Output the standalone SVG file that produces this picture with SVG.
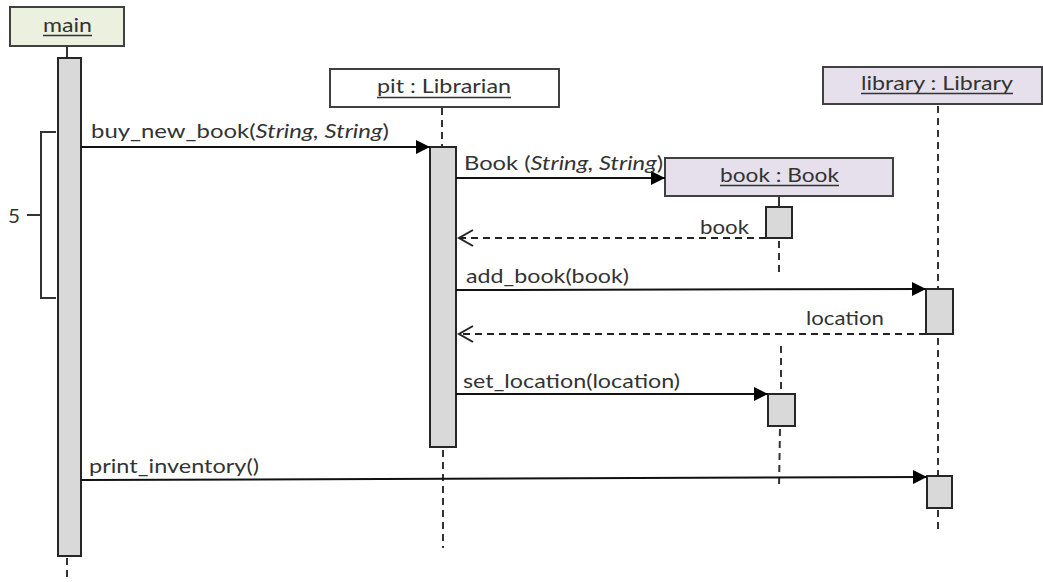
<svg xmlns="http://www.w3.org/2000/svg" width="1043" height="582" viewBox="0 0 1043 582">
<style>
  text { font-family: Lato, "Liberation Sans", sans-serif; font-size: 20px; fill: #333333; }
  .box { stroke: #404040; stroke-width: 2; }
  .ul { stroke: #333333; stroke-width: 1.3; }
  .life { stroke: #333; stroke-width: 2; stroke-dasharray: 7 5; fill: none; }
  .solid { stroke: #333; stroke-width: 2; fill: none; }
  .act { fill: #d9d9d9; stroke: #262626; stroke-width: 2; }
  .msg { stroke: #111; stroke-width: 2; fill: none; }
  .ret { stroke: #222; stroke-width: 2; stroke-dasharray: 7 5; fill: none; }
  .i { font-style: italic; }
</style>
<defs>
  <marker id="fill" markerUnits="userSpaceOnUse" markerWidth="15" markerHeight="16" refX="14" refY="8" orient="auto">
    <path d="M0,1 L14,8 L0,15 z" fill="#000" stroke="none"/>
  </marker>
  <marker id="open" markerUnits="userSpaceOnUse" markerWidth="18" markerHeight="20" refX="15" refY="10" orient="auto">
    <path d="M1,2 L15,10 L1,18" fill="none" stroke="#222" stroke-width="2" stroke-dasharray="none"/>
  </marker>
</defs>
<rect width="1043" height="582" fill="#fff"/>

<g id="lifelines">
  <line class="solid" x1="67" y1="46" x2="67" y2="58"/>
  <line class="life" x1="67" y1="558" x2="67" y2="582"/>
  <line class="life" x1="442" y1="108" x2="442" y2="147"/>
  <line class="life" x1="443" y1="450" x2="443" y2="548"/>
  <line class="solid" x1="779" y1="196" x2="779" y2="207"/>
  <line class="life" x1="779" y1="241" x2="779" y2="277"/>
  <line class="life" x1="781" y1="346" x2="781" y2="393"/>
  <line class="life" x1="780" y1="429" x2="779" y2="487"/>
  <line class="life" x1="938" y1="106" x2="938" y2="288"/>
  <line class="life" x1="938" y1="338" x2="938" y2="476"/>
  <line class="life" x1="938" y1="510" x2="938" y2="533"/>
</g>

<g id="main">
  <rect class="box" x="10" y="7" width="114" height="39" fill="#ebf1de"/>
  <text x="43" y="32" textLength="49" lengthAdjust="spacingAndGlyphs">main</text>
  <line class="ul" x1="43" y1="35.5" x2="92" y2="35.5"/>
  <rect class="act" x="58" y="58" width="23" height="498"/>
</g>

<g id="pit">
  <rect class="box" x="330" y="69" width="229" height="38" fill="#ffffff"/>
  <text x="377" y="93" textLength="134" lengthAdjust="spacingAndGlyphs">pit : Librarian</text>
  <line class="ul" x1="377" y1="97.5" x2="511" y2="97.5"/>
  <rect class="act" x="430" y="147" width="26" height="300"/>
</g>

<g id="book">
  <rect class="box" x="665" y="158" width="228" height="38" fill="#e5e0ec"/>
  <text x="720" y="182" textLength="119" lengthAdjust="spacingAndGlyphs">book : Book</text>
  <line class="ul" x1="720" y1="185.5" x2="839" y2="185.5"/>
  <rect class="act" x="766" y="207" width="26" height="31"/>
  <rect class="act" x="768" y="394" width="27" height="32"/>
</g>

<g id="library">
  <rect class="box" x="823" y="67" width="219" height="37" fill="#e5e0ec"/>
  <text x="861" y="90" textLength="152" lengthAdjust="spacingAndGlyphs">library : Library</text>
  <line class="ul" x1="861" y1="93.5" x2="1013" y2="93.5"/>
  <rect class="act" x="926" y="289" width="27" height="45"/>
  <rect class="act" x="927" y="476" width="25" height="32"/>
</g>

<g id="bracket">
  <path class="solid" d="M56,132 L41,132 L41,298 L56,298"/>
  <line class="solid" x1="27" y1="215" x2="41" y2="215"/>
  <text x="8" y="223" textLength="12" lengthAdjust="spacingAndGlyphs">5</text>
</g>

<g id="connectors">
  <line class="msg" x1="81" y1="147" x2="430" y2="147" marker-end="url(#fill)"/>
  <text x="91" y="138" textLength="298" lengthAdjust="spacingAndGlyphs">buy_new_book(<tspan class="i">String, String</tspan>)</text>

  <line class="msg" x1="456" y1="178" x2="665" y2="178" marker-end="url(#fill)"/>
  <text x="464" y="170" textLength="199" lengthAdjust="spacingAndGlyphs">Book (<tspan class="i">String, String</tspan>)</text>

  <line class="ret" x1="766" y1="238" x2="459" y2="238" marker-end="url(#open)"/>
  <text x="700" y="234" textLength="49" lengthAdjust="spacingAndGlyphs">book</text>

  <line class="msg" x1="456" y1="290" x2="926" y2="289" marker-end="url(#fill)"/>
  <text x="466" y="283" textLength="163" lengthAdjust="spacingAndGlyphs">add_book(book)</text>

  <line class="ret" x1="926" y1="334" x2="459" y2="334" marker-end="url(#open)"/>
  <text x="806" y="325" textLength="78" lengthAdjust="spacingAndGlyphs">location</text>

  <line class="msg" x1="456" y1="394" x2="768" y2="394" marker-end="url(#fill)"/>
  <text x="463" y="388" textLength="217" lengthAdjust="spacingAndGlyphs">set_location(location)</text>

  <line class="msg" x1="81" y1="480" x2="927" y2="477" marker-end="url(#fill)"/>
  <text x="89" y="473" textLength="170" lengthAdjust="spacingAndGlyphs">print_inventory()</text>
</g>
</svg>
